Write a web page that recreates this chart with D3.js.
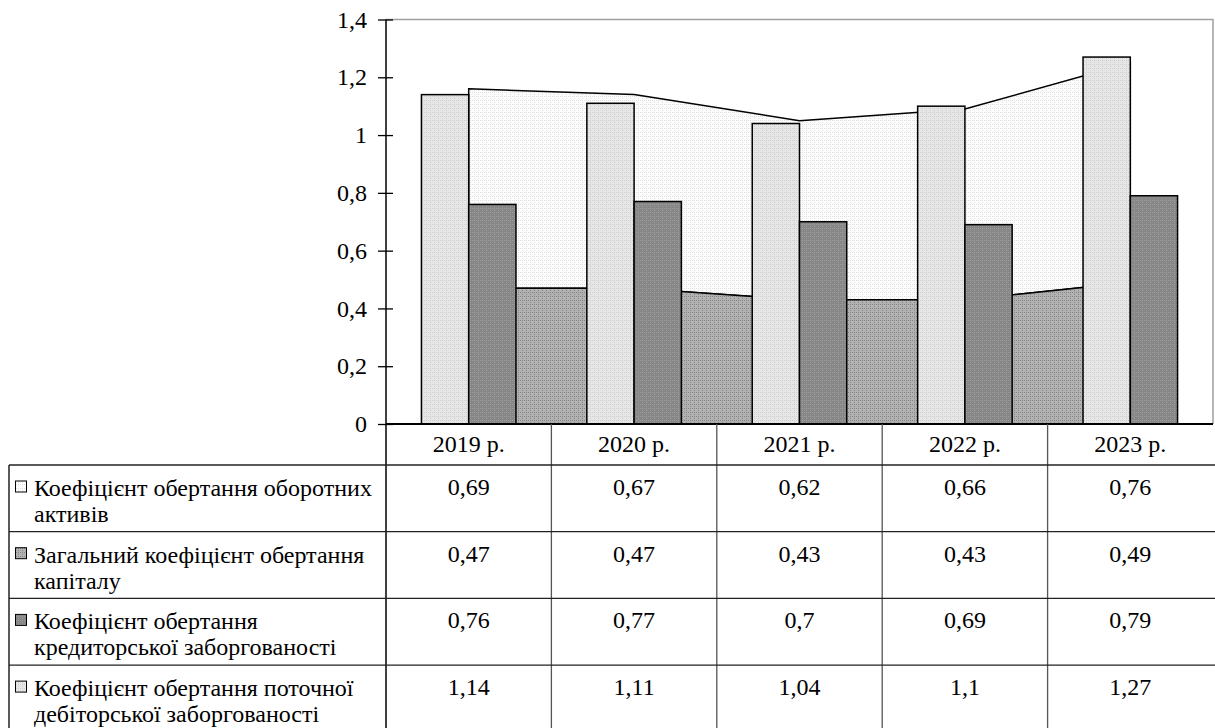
<!DOCTYPE html>
<html>
<head>
<meta charset="utf-8">
<script src="https://cdn.jsdelivr.net/npm/d3@7"></script>
<style>
	body { margin: 0; background: #fff; }
	svg text { font-family: 'Liberation Serif', 'Times New Roman', serif; }
</style>
</head>
<body>
<div id="chart"></div>
<script>
//----
//Data
//----
var years = ['2019 р.', '2020 р.', '2021 р.', '2022 р.', '2023 р.']

var seriesNames = [
	['Коефіцієнт обертання оборотних', 'активів'],
	['Загальний коефіцієнт обертання', 'капіталу'],
	['Коефіцієнт обертання', 'кредиторської заборгованості'],
	['Коефіцієнт обертання поточної', 'дебіторської заборгованості']
]

var currentAssets = [0.69, 0.67, 0.62, 0.66, 0.76]
var totalCapital = [0.47, 0.47, 0.43, 0.43, 0.49]
var payables = [0.76, 0.77, 0.7, 0.69, 0.79]
var receivables = [1.14, 1.11, 1.04, 1.1, 1.27]

var yTicks = [0, 0.2, 0.4, 0.6, 0.8, 1, 1.2, 1.4]

//----------------
//Local Properties
//----------------
var _width = 1215,
	_height = 728

var _plot = { left: 386, right: 1213, top: 19.5, bottom: 424 }

var _table = { left: 9, headBottom: 465, rowH: 66.7 }

var _font = "'Liberation Serif', 'Times New Roman', serif",
	_fontSize = 24

var _svg, _x, _y, _xb

var _fmt = function(v){ return String(v).replace('.', ',') }

function _draw(){
	_svg = d3.select('#chart').append('svg')
		.attr('width', _width)
		.attr('height', _height)
		.attr('font-family', _font)

	_makePatterns()

	_x = d3.scaleBand().domain(years).range([_plot.left, _plot.right]).padding(0)
	_y = d3.scaleLinear().domain([0, 1.4]).range([_plot.bottom, _plot.top])
	//two bars per cluster, gap width 150%
	_xb = d3.scaleBand().domain([0, 1]).range([0, _x.bandwidth() * 2 / 3.5])

	_drawFrame()
	_drawAreas()
	_drawBars()
	_drawAxis()
	_drawTable()
}

function _makePatterns(){
	var defs = _svg.append('defs')
	var pats = [
		{ id: 'pUpper', base: '#fcfcfc', dots: '#e0e0e0' },
		{ id: 'pLower', base: '#b2b2b2', dots: '#858585' },
		{ id: 'pDark', base: '#878787', dots: '#9e9e9e' },
		{ id: 'pLight', base: '#e6e6e6', dots: '#cfcfcf' }
	]
	pats.forEach(function(p){
		var g = defs.append('pattern')
			.attr('id', p.id)
			.attr('patternUnits', 'userSpaceOnUse')
			.attr('width', 4).attr('height', 4)
		g.append('rect').attr('width', 4).attr('height', 4).attr('fill', p.base)
		g.append('rect').attr('x', 0).attr('y', 0).attr('width', 1).attr('height', 1).attr('fill', p.dots)
		g.append('rect').attr('x', 2).attr('y', 2).attr('width', 1).attr('height', 1).attr('fill', p.dots)
		g.append('rect').attr('x', 2).attr('y', 0).attr('width', 1).attr('height', 1).attr('fill', p.dots)
	})
}

function _drawFrame(){
	//grey plot-area border, top and right
	_svg.append('path')
		.attr('d', 'M' + _plot.left + ',' + _plot.top + 'H' + _plot.right + 'V' + _plot.bottom)
		.attr('fill', 'none')
		.attr('stroke', '#a0a0a0')
		.attr('stroke-width', 1.5)
}

function _drawAreas(){
	var cx = function(d, i){ return _x(years[i]) + _x.bandwidth() / 2 }
	var stacked = totalCapital.map(function(v, i){ return v + currentAssets[i] })

	var upper = d3.area()
		.x(cx)
		.y0(function(d, i){ return _y(totalCapital[i]) })
		.y1(function(d){ return _y(d) })
	var lower = d3.area()
		.x(cx)
		.y0(_y(0))
		.y1(function(d){ return _y(d) })

	_svg.append('path')
		.datum(stacked)
		.attr('d', upper)
		.attr('fill', 'url(#pUpper)')
		.attr('stroke', '#000')
		.attr('stroke-width', 1.5)
	_svg.append('path')
		.datum(totalCapital)
		.attr('d', lower)
		.attr('fill', 'url(#pLower)')
		.attr('stroke', '#000')
		.attr('stroke-width', 1.5)
}

function _drawBars(){
	var sets = [
		{ data: receivables, fill: 'url(#pLight)' },
		{ data: payables, fill: 'url(#pDark)' }
	]
	var off = (_x.bandwidth() - _xb.range()[1]) / 2
	sets.forEach(function(s, k){
		_svg.append('g').selectAll('rect').data(s.data).enter().append('rect')
			.attr('x', function(d, i){ return _x(years[i]) + off + _xb(k) })
			.attr('y', function(d){ return _y(d) })
			.attr('width', _xb.bandwidth())
			.attr('height', function(d){ return _y(0) - _y(d) })
			.attr('fill', s.fill)
			.attr('stroke', '#000')
			.attr('stroke-width', 1.5)
	})
}

function _drawAxis(){
	var ax = _svg.append('g')
		.attr('transform', 'translate(' + _plot.left + ',0)')
		.call(d3.axisLeft(_y).tickValues(yTicks).tickFormat(_fmt).tickSize(8).tickPadding(11))
	ax.attr('font-family', _font).attr('font-size', _fontSize)
	ax.select('.domain').remove()
	ax.selectAll('.tick line').attr('x2', 7).attr('x1', -8).attr('stroke', '#000').attr('stroke-width', 1.3)
	ax.selectAll('.tick text').attr('fill', '#000')

	_svg.append('line')
		.attr('x1', _plot.left).attr('x2', _plot.left)
		.attr('y1', _plot.top).attr('y2', _height)
		.attr('stroke', '#000').attr('stroke-width', 1.5)
	_svg.append('line')
		.attr('x1', _plot.left).attr('x2', _plot.right)
		.attr('y1', _plot.bottom).attr('y2', _plot.bottom)
		.attr('stroke', '#000').attr('stroke-width', 2.2)
}

function _drawTable(){
	var rows = [currentAssets, totalCapital, payables, receivables]
	var keys = ['url(#pUpper)', 'url(#pLower)', 'url(#pDark)', 'url(#pLight)']
	var g = _svg.append('g')
		.attr('font-family', _font)
		.attr('font-size', _fontSize)
		.attr('fill', '#000')

	//category dividers
	g.selectAll('line.div').data(years.slice(1)).enter().append('line')
		.attr('x1', function(d){ return _x(d) }).attr('x2', function(d){ return _x(d) })
		.attr('y1', _plot.bottom).attr('y2', _height)
		.attr('stroke', '#555').attr('stroke-width', 1.3)
	//left border
	g.append('line')
		.attr('x1', _table.left).attr('x2', _table.left)
		.attr('y1', _table.headBottom).attr('y2', _height)
		.attr('stroke', '#000').attr('stroke-width', 1.3)
	//row lines
	g.selectAll('line.row').data(d3.range(rows.length)).enter().append('line')
		.attr('x1', _table.left).attr('x2', _width)
		.attr('y1', function(i){ return _table.headBottom + i * _table.rowH })
		.attr('y2', function(i){ return _table.headBottom + i * _table.rowH })
		.attr('stroke', '#222').attr('stroke-width', 1.3)

	//header
	g.selectAll('text.head').data(years).enter().append('text')
		.attr('x', function(d){ return _x(d) + _x.bandwidth() / 2 })
		.attr('y', 452)
		.attr('text-anchor', 'middle')
		.text(function(d){ return d })

	rows.forEach(function(vals, r){
		var top = _table.headBottom + r * _table.rowH
		g.append('rect')
			.attr('x', 15.5).attr('y', top + 16)
			.attr('width', 11).attr('height', 11)
			.attr('fill', keys[r]).attr('stroke', '#000').attr('stroke-width', 1)
		g.append('text')
			.attr('x', 34).attr('y', top + 31)
			.text(seriesNames[r][0])
		g.append('text')
			.attr('x', 34).attr('y', top + 57)
			.text(seriesNames[r][1])
		g.selectAll(null).data(vals).enter().append('text')
			.attr('x', function(d, i){ return _x(years[i]) + _x.bandwidth() / 2 })
			.attr('y', top + 30)
			.attr('text-anchor', 'middle')
			.text(_fmt)
	})
}

_draw()
</script>
</body>
</html>
